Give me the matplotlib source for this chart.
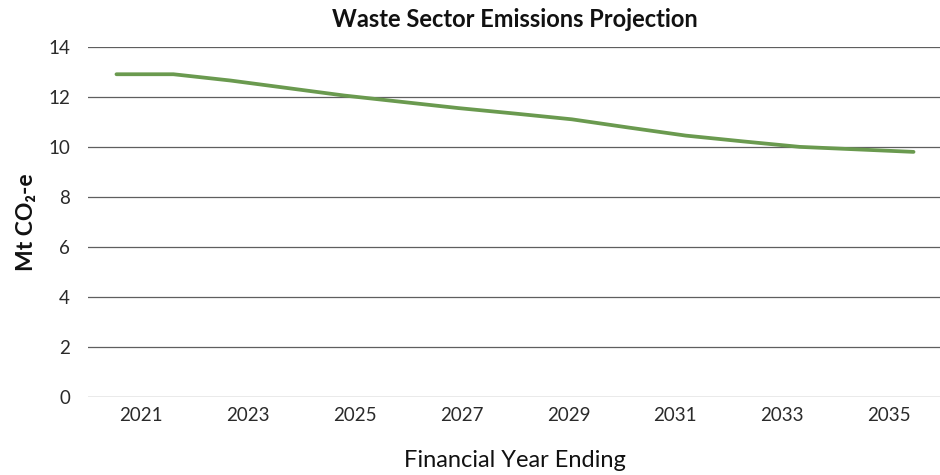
import numpy as np
import matplotlib
matplotlib.use("Agg")
import matplotlib.pyplot as plt

plt.rcParams['font.family'] = ['Lato', 'DejaVu Sans']

years = [2021, 2022, 2023, 2024, 2025, 2026, 2027, 2028, 2029, 2030,
         2031, 2032, 2033, 2034, 2035]
emissions = [12.9, 12.9, 12.65, 12.35, 12.05, 11.8, 11.55, 11.33, 11.1,
             10.77, 10.45, 10.22, 10.0, 9.9, 9.8]
tick_labels = ['2021', '2023', '2025', '2027', '2029', '2031', '2033', '2035']
y_ticks = [0, 2, 4, 6, 8, 10, 12, 14]

fig = plt.figure(figsize=(9.4, 4.75), dpi=100)
ax = fig.add_axes([88 / 940, 1 - 397.3 / 475, 854 / 940, (397.3 - 46.7) / 475])

x = np.arange(len(years))
ax.plot(x, emissions, color='#6a9a4f', linewidth=2.7, solid_capstyle='round',
        solid_joinstyle='round', zorder=3)

n = len(years)
ax.set_xlim(-0.5, n - 0.5)
ax.set_ylim(0, 14)
groups = len(tick_labels)
tick_pos = [-0.5 + (k + 0.5) * n / groups for k in range(groups)]
ax.set_xticks(tick_pos)
ax.set_xticklabels(tick_labels)
ax.set_yticks(y_ticks)
ax.set_yticklabels([str(v) for v in y_ticks])

ax.grid(axis='y', color='#5f5f5f', linewidth=0.9, zorder=1)
ax.set_axisbelow(True)
for s in ax.spines.values():
    s.set_visible(False)
ax.tick_params(axis='both', length=0, labelsize=13.5, colors='#2a2a2a')
ax.tick_params(axis='y', pad=13)
ax.tick_params(axis='x', pad=7)

ax.set_title('Waste Sector Emissions Projection', fontsize=17, fontweight='bold',
             color='#111111', pad=14)
ax.set_xlabel('Financial Year Ending', fontsize=17, color='#111111', labelpad=19)
ax.set_ylabel('Mt CO\u2082-e', fontsize=16.5, fontweight='bold', color='#111111',
              labelpad=8)

fig.savefig('out.png', dpi=100)
